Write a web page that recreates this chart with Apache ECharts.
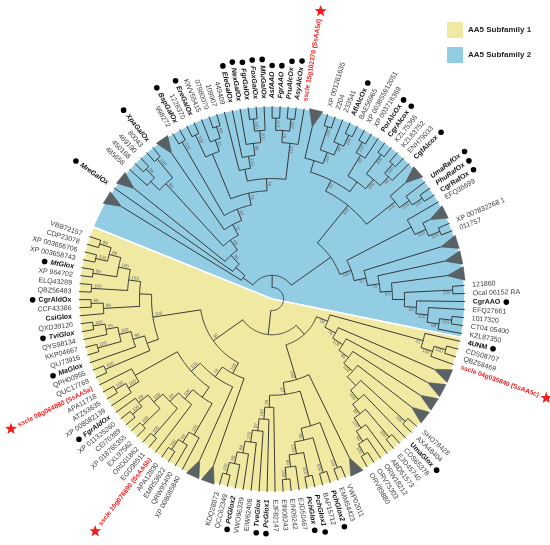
<!DOCTYPE html>
<html>
<head>
<meta charset="utf-8">
<script src="https://cdn.jsdelivr.net/npm/echarts@6/dist/echarts.min.js"></script>
<style>
  html, body { margin: 0; padding: 0; background: #fff; }
  #tree { width: 550px; height: 545px; }
</style>
</head>
<body>
<div id="tree"></div>
<script>
// leaves in clockwise order, '^' marks a collapsed clade (drawn as a triangle)
const sub2Leaves = [
  '^', 'MreGalOx', '^', '485658', '450168', '469190', '80043', 'XpaGalOx', '^',
  '998272', 'BspGalOx', '1228370', 'EreGalOx', 'KWV55415', '07980070', '109907',
  '449409', 'EfeGalOx', 'NexGalOx', 'FgrGalOx', 'FoxGalOx', 'MfuGalOx', 'AsfAAO',
  'FgrAAO', 'PruAlcOx', 'AsyAlcOx', 'sscle 15g102370 (SsAA5d)', '^',
  'XP 001261635', '2204', '233541', 'AflAlcOx', 'BAE56965', 'XP 003855912051',
  'XP 003718369', 'PorAlcOx', 'CgrAlcox', 'KZL75366', 'KZL83752', 'ENH79033',
  'CgfAlcox', '^', 'UmaRafOx', 'PhuRafOx', 'CgrRafOx', 'EFQ36699', '^',
  'XP 007832268 1', '011757', '^', '^', '^', '121860', 'Ocal 06152 RA', 'CgrAAO',
  'EFQ27661', '1017320', 'CT04 05400', 'KZL87350'
];
const sub1Leaves = [
  '4UNM', 'CDS08707', 'QBZ58469', 'sscle 04g035840 (SsAA5c)', '^', '^', '^', '^',
  'SHO78428', 'AXA48404', 'UmaGlox', 'CDS65378', 'EJD45740', 'ABD61573', 'ORW18212',
  'ORV75303', 'ORV89880', '^', 'VWP02011', 'EMM54423', 'PchGlox2', 'BAP15712',
  'PchGlox1', 'PchGlox', 'EJD50467', 'EIN08242', 'EIN08243', 'EJF82147', 'PcGlox1',
  'TveGlox', 'EIW62408', 'VWO96339', 'PcGlox2', 'QCC62349', 'KDQ28873', '^', '^',
  'XP 008085840', 'QRW95400', 'EMR53622', 'APA12830', 'sscle 10g076690 (SsAA5b)',
  'EGD98511', 'ORD01862', 'EXL97562', 'XP 018765355', 'CEI70389', 'XP 011325260',
  'FgrAldOx', 'XP 008082139', 'ATZ53635', 'APA11718', 'sscle 08g064880 (SsAA5a)',
  'QUC17769', 'QPH00955', 'MaGlox', 'QLI73916', 'KKP04667', 'QYS98134', 'TviGlox',
  'QXD39120', 'CsiGlox', 'CCF43386', 'CgrAldOx', 'QBZ56483', 'ELQ43289', 'XP 964702',
  'MtGlox', 'XP 003658743', 'XP 003656706', 'CDP23078', 'VBB72157'
];

const dotLeaves = [
  'MreGalOx', 'XpaGalOx', 'BspGalOx', 'EreGalOx', 'EfeGalOx', 'NexGalOx', 'FgrGalOx',
  'FoxGalOx', 'MfuGalOx', 'AsfAAO', 'FgrAAO', 'PruAlcOx', 'AsyAlcOx', 'AflAlcOx',
  'PorAlcOx', 'CgrAlcox', 'CgfAlcox', 'UmaRafOx', 'PhuRafOx', 'CgrRafOx', 'CgrAAO',
  '4UNM', 'UmaGlox', 'PchGlox2', 'PchGlox1', 'PchGlox', 'PcGlox1', 'TveGlox', 'PcGlox2',
  'FgrAldOx', 'MaGlox', 'TviGlox', 'CgrAldOx', 'MtGlox'
];
const boldLeaves = dotLeaves.concat(['CsiGlox']);
const italicLeaves = [
  'MreGalOx', 'XpaGalOx', 'BspGalOx', 'EreGalOx', 'EfeGalOx', 'NexGalOx', 'FgrGalOx',
  'FoxGalOx', 'MfuGalOx', 'AsfAAO', 'FgrAAO', 'PruAlcOx', 'AsyAlcOx', 'UmaRafOx',
  'PhuRafOx', 'PchGlox2', 'PchGlox1', 'PchGlox', 'PcGlox1', 'TveGlox', 'PcGlox2',
  'FgrAldOx', 'MaGlox', 'TviGlox', 'MtGlox'
];

// topology, leaf numbers are positions inside each subfamily list, numbers after ')' are bootstrap values
const s2Left = '(0,(1,(2,(((3,(4,5)98),(6,7)100)80,(8,((9,10)100,(((11,12)100,(13,(14,15)99)90),' +
  '((16,(17,(18,((19,20)100,21)100)98)100),(((22,23)100,(24,25)100)97,26)100)78)51)80)78)98)98)96)';
const s2H1 = '(27,((28,29)100,(30,(31,32)100)99)100)';
const s2H2 = '(((33,34)100,35)99,((36,37)100,((38,39)100,40)99)100)';
const s2H3 = '(41,(42,(43,44)100)100)100';
const s2H4 = '(45,(46,(47,48)100)100)';
const s2H5 = '((52,53)100,(54,(55,((56,57)100,58)99)100)96)';
const s2Right = '(((' + s2H1 + ',' + s2H2 + ')90,' + s2H3 + ')100,(' + s2H4 + ',(49,(50,(51,' + s2H5 + ')83)76)37)100)';
const sub2Tree = '(' + s2Left + ',' + s2Right + ')100';

const s1Y1 = '(0,((1,2)100,3)100)41';
const s1Y2 = '((8,9)100,(10,((11,12)100,(13,(14,(15,16)100)99)100)98)100)';
const s1Lad = '(4,(5,(6,(7,' + s1Y2 + ')100)96)100)76';
const s1Y3a = '((18,19)100,((20,21)100,((22,23)100,(24,(25,26)100)99)100)96)';
const s1Y3b = '(27,(28,(29,(30,(31,(32,(33,34)100)99)98)100)97)100)76';
const s1Y4 = '((37,(38,(39,40)100)99)100,(41,((42,43)100,((44,45)100,((46,47)100,48)99)100)98)100)';
const s1Y5 = '((49,(50,51)100)100,52)';
const s1Y6 = '((53,54)100,(55,((56,57)100,(58,(59,60)100)99)100)98)';
const s1Y7 = '((61,(62,63)99)99,((64,65)100,((66,67)99,((68,69)100,(70,71)99)99)100)100)';
const sub1Tree = '(((' + s1Y1 + ',' + s1Lad + ')98,(17,(' + s1Y3a + ',' + s1Y3b + ')87)100),' +
  '((35,(36,(' + s1Y4 + ',' + s1Y5 + ')100)74)100,(' + s1Y6 + ',' + s1Y7 + ')100)80)100';

const BLUE = '#93cde4';
const YELLOW = '#efe9a1';
const FONT = '"Liberation Sans", Arial, sans-serif';
const LEAD_GAP = 3, TAIL_GAP = 0.8, TRI_W = 2;
const ROOT_R = 0.06, TRI_APEX = 0.915, LABEL_R = 1.04;

const allLeaves = sub2Leaves.concat(sub1Leaves);

function parseTree(str, base) {
  let i = 0;
  const num = () => { let s = ''; while (i < str.length && /\d/.test(str[i])) s += str[i++]; return s; };
  function node() {
    if (str[i] === '(') {
      i++;
      const kids = [node()];
      while (str[i] === ',') { i++; kids.push(node()); }
      i++;
      const s = num();
      return { children: kids, support: s ? +s : null };
    }
    return { leaf: base + parseInt(num(), 10) };
  }
  return node();
}

// angular slots
const slot = [];
let u = LEAD_GAP, blueEnd = 0;
allLeaves.forEach((name, k) => {
  const w = name === '^' ? TRI_W : 1;
  slot.push(u + w / 2);
  u += w;
  if (k === sub2Leaves.length - 1) blueEnd = u;
});
const totalUnits = u + TAIL_GAP;

const root = { children: [parseTree(sub2Tree, 0), parseTree(sub1Tree, sub2Leaves.length)], support: null };

function measureHeights(n) {
  if (n.leaf !== undefined) { n.h = 0; n.a = slot[n.leaf]; return; }
  n.children.forEach(measureHeights);
  n.h = 1 + Math.max.apply(null, n.children.map(c => c.h));
  n.a0 = n.children[0].a;
  n.a1 = n.children[n.children.length - 1].a;
  n.a = (n.a0 + n.a1) / 2;
}
measureHeights(root);
const step = (1 - ROOT_R) / root.h;

const branchData = [], triData = [], supportData = [], labelData = [];
function collect(n, rParent) {
  let r;
  if (n.leaf !== undefined) {
    const collapsed = allLeaves[n.leaf] === '^';
    r = collapsed ? TRI_APEX : 1;
    branchData.push([r, n.a, rParent, n.a, n.a]);
    if (collapsed) triData.push([TRI_APEX, n.a]);
    else labelData.push([LABEL_R, n.a, n.leaf]);
    return;
  }
  r = 1 - step * n.h;
  branchData.push([r, n.a, rParent === null ? r : rParent, n.a0, n.a1]);
  if (n.support !== null && r > 0.3) supportData.push([r, n.a, n.support]);
  n.children.forEach(c => collect(c, r));
}
collect(root, null);

const ctx = document.createElement('canvas').getContext('2d');
function leafFont(name) {
  const red = name.indexOf('sscle') === 0;
  const bold = red || boldLeaves.indexOf(name) >= 0;
  const italic = italicLeaves.indexOf(name) >= 0;
  const size = red ? 6.6 : 7;
  return { red, bold, italic, css: (italic ? 'italic ' : '') + (bold ? 'bold ' : '') + size + 'px ' + FONT };
}

function sectorItem(params, api) {
  const a0 = api.value(1), a1 = api.value(2);
  const pts = [api.coord([0, a0])];
  for (let a = a0; a < a1; a += 0.5) pts.push(api.coord([1, a]));
  pts.push(api.coord([1, a1]));
  return {
    type: 'polygon', shape: { points: pts },
    style: { fill: api.visual('color'), stroke: '#fff', lineWidth: 1.6 }
  };
}

function branchItem(params, api) {
  const r = api.value(0), a = api.value(1), rp = api.value(2), a0 = api.value(3), a1 = api.value(4);
  const style = { stroke: '#282828', lineWidth: 0.9, fill: null };
  const kids = [];
  if (rp < r) kids.push({ type: 'polyline', shape: { points: [api.coord([rp, a]), api.coord([r, a])] }, style });
  if (a1 > a0) {
    const pts = [];
    for (let t = a0; t < a1; t += 0.3) pts.push(api.coord([r, t]));
    pts.push(api.coord([r, a1]));
    kids.push({ type: 'polyline', shape: { points: pts }, style });
  }
  return { type: 'group', children: kids };
}

function triItem(params, api) {
  const a = api.value(1);
  return {
    type: 'polygon',
    shape: { points: [api.coord([api.value(0), a]), api.coord([1.005, a - 0.85]), api.coord([1.005, a + 0.85])] },
    style: { fill: '#5a6165', stroke: '#4a5054', lineWidth: 0.5 }
  };
}

function radialText(params, p, text, extra) {
  const th = Math.atan2(p[1] - params.coordSys.cy, p[0] - params.coordSys.cx);
  const flip = Math.cos(th) < 0;
  return {
    th, flip,
    el: {
      type: 'text', x: p[0], y: p[1], rotation: flip ? Math.PI - th : -th,
      style: Object.assign({ text, align: flip ? 'right' : 'left', verticalAlign: 'middle' }, extra)
    }
  };
}

function supportItem(params, api) {
  const r = api.value(0), a = api.value(1);
  const p = api.coord([r - 0.012, a]);
  const th = Math.atan2(p[1] - params.coordSys.cy, p[0] - params.coordSys.cx);
  const q = [p[0] - Math.sin(th) * 2.6, p[1] + Math.cos(th) * 2.6];
  const t = radialText(params, q, String(api.value(2)), { fontSize: 4.6, fontFamily: FONT, fill: '#6a6a6a' });
  t.el.style.align = t.flip ? 'left' : 'right';
  return t.el;
}

function labelItem(params, api) {
  const name = allLeaves[api.value(2)];
  const f = leafFont(name);
  const p = api.coord([LABEL_R, api.value(1)]);
  const t = radialText(params, p, name, {
    font: f.css, fill: f.red ? '#f21d1d' : (f.bold ? '#111' : '#3c3c3c')
  });
  ctx.font = f.css;
  const w = ctx.measureText(name).width;
  const ux = Math.cos(t.th), uy = Math.sin(t.th);
  const kids = [t.el];
  if (dotLeaves.indexOf(name) >= 0) {
    const d = w + 6;
    kids.push({ type: 'circle', shape: { cx: p[0] + ux * d, cy: p[1] + uy * d, r: 2.8 }, style: { fill: '#000' } });
  }
  if (f.red) {
    const d = w + 8, sx = p[0] + ux * d, sy = p[1] + uy * d, pts = [];
    for (let k = 0; k < 10; k++) {
      const ang = -Math.PI / 2 + k * Math.PI / 5, rr = k % 2 ? 2.6 : 6.2;
      pts.push([sx + Math.cos(ang) * rr, sy + Math.sin(ang) * rr]);
    }
    kids.push({ type: 'polygon', shape: { points: pts }, style: { fill: '#f21d1d' } });
  }
  return { type: 'group', children: kids };
}

const chart = echarts.init(document.getElementById('tree'));
chart.setOption({
  animation: false,
  legend: {
    data: ['AA5 Subfamily 1', 'AA5 Subfamily 2'],
    orient: 'vertical', left: 442, top: 17,
    itemWidth: 16, itemHeight: 16, itemGap: 9, icon: 'rect', selectedMode: false,
    textStyle: { fontSize: 8, fontWeight: 'bold', color: '#222', fontFamily: FONT }
  },
  polar: { center: [272, 299], radius: 193 },
  angleAxis: { type: 'value', min: 0, max: totalUnits, startAngle: 158, clockwise: true, show: false },
  radiusAxis: { type: 'value', min: 0, max: 1, show: false },
  series: [
    { name: 'AA5 Subfamily 2', type: 'custom', coordinateSystem: 'polar', silent: true,
      itemStyle: { color: BLUE }, renderItem: sectorItem, data: [[1, 0, blueEnd]] },
    { name: 'AA5 Subfamily 1', type: 'custom', coordinateSystem: 'polar', silent: true,
      itemStyle: { color: YELLOW }, renderItem: sectorItem, data: [[1, blueEnd, totalUnits]] },
    { type: 'custom', coordinateSystem: 'polar', silent: true, renderItem: branchItem, data: branchData },
    { type: 'custom', coordinateSystem: 'polar', silent: true, renderItem: triItem, data: triData },
    { type: 'custom', coordinateSystem: 'polar', silent: true, renderItem: supportItem, data: supportData },
    { type: 'custom', coordinateSystem: 'polar', silent: true, renderItem: labelItem, data: labelData }
  ]
});
</script>
</body>
</html>
